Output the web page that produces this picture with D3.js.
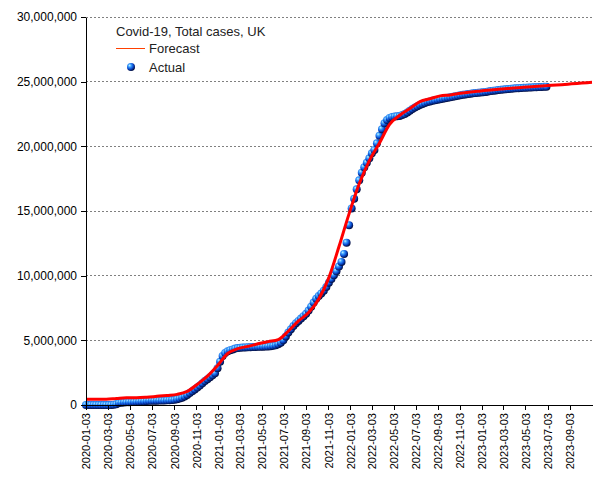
<!DOCTYPE html>
<html><head><meta charset="utf-8">
<script src="https://cdn.jsdelivr.net/npm/d3@7"></script>
<style>body{margin:0;background:#fff}</style>
</head><body><svg id="c" width="605" height="480"></svg>
<script>
const chartTitle = "Covid-19, Total cases, UK";
const seriesNames = ["Forecast", "Actual"];
const actualStart = "2020-01-03";
const actualStepDays = 7;
// weekly total cases, millions
const actualMillions = [
  0,0,0,0,0,0,0,0,0,0.001,0.005,0.02,0.05,0.15,0.18,0.2,0.21,0.22,0.23,0.24,
  0.25,0.26,0.27,0.28,0.3,0.32,0.325,0.33,0.335,0.34,0.345,0.35,0.36,0.37,0.38,
  0.4,0.45,0.5,0.57,0.66,0.78,0.92,1.06,1.2,1.35,1.5,1.68,1.85,2.0,2.15,2.3,2.45,
  2.85,3.35,3.78,4.02,4.15,4.24,4.3,4.36,4.4,4.42,4.44,4.45,4.46,4.47,4.48,4.49,
  4.5,4.5,4.51,4.52,4.53,4.55,4.58,4.62,4.7,4.82,5.0,5.3,5.6,5.85,6.1,6.33,6.5,
  6.68,6.86,7.05,7.3,7.6,7.92,8.22,8.43,8.63,8.84,9.12,9.46,9.74,10.03,10.34,
  10.7,11.06,11.68,12.55,13.9,15.2,15.95,16.68,17.37,17.96,18.38,18.73,19.07,
  19.46,19.72,20.23,20.82,21.32,21.78,22.04,22.2,22.27,22.3,22.33,22.35,22.42,
  22.5,22.62,22.75,22.88,23.0,23.1,23.2,23.28,23.35,23.42,23.47,23.52,23.56,23.6,
  23.64,23.68,23.72,23.76,23.79,23.83,23.87,23.91,23.95,23.98,24.01,24.04,24.07,
  24.1,24.12,24.14,24.16,24.18,24.21,24.24,24.27,24.3,24.32,24.35,24.37,24.39,
  24.41,24.43,24.45,24.47,24.49,24.5,24.51,24.52,24.53,24.54,24.55,24.56,24.57,
  24.58,24.59,24.6,24.61
];
const forecastStart = "2020-01-03";
const forecastStepDays = 28;
const forecastMillions = [
  0.44,0.44,0.44,0.5,0.56,0.56,0.6,0.67,0.74,0.82,1.05,1.6,2.23,3.05,3.98,4.36,
  4.53,4.73,4.9,5.06,5.72,6.5,7.15,8.2,9.85,12.25,14.8,17.1,18.9,20.25,21.7,22.4,
  22.92,23.45,23.68,23.9,23.97,24.1,24.2,24.28,24.36,24.43,24.5,24.55,24.6,24.66,
  24.72,24.77,24.83,24.89,24.95
];
const xTickLabels = [
  "2020-01-03","2020-03-03","2020-05-03","2020-07-03","2020-09-03","2020-11-03",
  "2021-01-03","2021-03-03","2021-05-03","2021-07-03","2021-09-03","2021-11-03",
  "2022-01-03","2022-03-03","2022-05-03","2022-07-03","2022-09-03","2022-11-03",
  "2023-01-03","2023-03-03","2023-05-03","2023-07-03","2023-09-03"
];
const xDomainLabels = ["2020-01-03", "2023-11-03"];
const yTickValues = [0, 5000000, 10000000, 15000000, 20000000, 25000000, 30000000];

const parse = d3.utcParse("%Y-%m-%d");
const W = 605, H = 480;
const L = 86, R = 592, T = 17, B = 405;
const font = '"Liberation Sans", Arial, sans-serif';

const actual = actualMillions.map((v, i) => ({date: d3.utcDay.offset(parse(actualStart), i * actualStepDays), value: v * 1e6}));
const forecast = forecastMillions.map((v, i) => ({date: d3.utcDay.offset(parse(forecastStart), i * forecastStepDays), value: v * 1e6}));

const x = d3.scaleUtc().domain(xDomainLabels.map(parse)).range([L, R]);
const y = d3.scaleLinear().domain([0, 30000000]).range([B, T]);

const svg = d3.select("#c");
svg.append("rect").attr("width", W).attr("height", H).attr("fill", "#fff");

const defs = svg.append("defs");
const g = defs.append("radialGradient").attr("id", "ball").attr("cx", "38%").attr("cy", "35%").attr("r", "65%").attr("fx", "32%").attr("fy", "30%");
g.append("stop").attr("offset", "0%").attr("stop-color", "#c8f4ff");
g.append("stop").attr("offset", "30%").attr("stop-color", "#3aa0ff");
g.append("stop").attr("offset", "65%").attr("stop-color", "#0a4ad0");
g.append("stop").attr("offset", "100%").attr("stop-color", "#000c40");

// grid
svg.append("g").selectAll("line").data(yTickValues.filter(d => d > 0)).join("line")
  .attr("x1", L).attr("x2", R).attr("y1", d => y(d)).attr("y2", d => y(d))
  .attr("stroke", "#808080").attr("stroke-width", 1).attr("stroke-dasharray", "2,2")
  .attr("shape-rendering", "crispEdges");

// actual points
svg.append("g").selectAll("circle").data(actual).join("circle")
  .attr("cx", d => x(d.date)).attr("cy", d => y(d.value)).attr("r", 4)
  .attr("fill", "url(#ball)");

// forecast line
svg.append("path").datum(forecast)
  .attr("d", d3.line().x(d => x(d.date)).y(d => y(d.value)).curve(d3.curveMonotoneX))
  .attr("fill", "none").attr("stroke", "#ff0000").attr("stroke-width", 3);

// axes
const yAxis = svg.append("g").attr("transform", `translate(${L},0)`)
  .call(d3.axisLeft(y).tickValues(yTickValues).tickSize(5).tickSizeOuter(0).tickPadding(4).tickFormat(d3.format(",")));
yAxis.attr("font-family", font).attr("font-size", 12);
yAxis.selectAll("text").attr("fill", "#000");
yAxis.select(".domain").attr("shape-rendering", "crispEdges");
yAxis.selectAll(".tick line").attr("shape-rendering", "crispEdges");

const xAxis = svg.append("g").attr("transform", `translate(0,${B})`)
  .call(d3.axisBottom(x).tickValues(xTickLabels.map(parse)).tickSize(5).tickSizeOuter(0).tickFormat(d3.utcFormat("%Y-%m-%d")));
xAxis.attr("font-family", font).attr("font-size", 11);
xAxis.selectAll("text").attr("fill", "#000").attr("transform", "rotate(-90)")
  .attr("text-anchor", "end").attr("x", -8).attr("y", 0).attr("dy", "0.35em");
xAxis.select(".domain").attr("shape-rendering", "crispEdges");
xAxis.selectAll(".tick line").attr("shape-rendering", "crispEdges");

// legend
const lg = svg.append("g").attr("font-family", font).attr("font-size", 13).attr("fill", "#222");
lg.append("text").attr("x", 116).attr("y", 36).text(chartTitle);
lg.append("line").attr("x1", 116).attr("x2", 145).attr("y1", 48.5).attr("y2", 48.5).attr("stroke", "#ff4000").attr("stroke-width", 1);
lg.append("text").attr("x", 149).attr("y", 53).text(seriesNames[0]);
lg.append("circle").attr("cx", 131).attr("cy", 67).attr("r", 4).attr("fill", "url(#ball)");
lg.append("text").attr("x", 149).attr("y", 72).text(seriesNames[1]);
</script></body></html>
